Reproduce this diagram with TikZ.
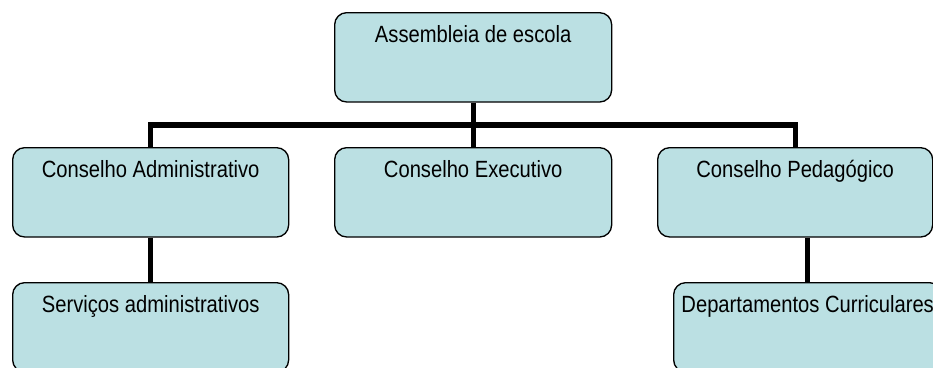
\documentclass[tikz,border=0pt]{standalone}
\usepackage{fontspec}
\setmainfont{Liberation Sans}[FakeStretch=0.86]
\definecolor{boxfill}{RGB}{187,224,227}
\begin{document}
\begin{tikzpicture}[x=0.75pt,y=-0.75pt,
  orgbox/.style={draw=black,line width=1pt,fill=boxfill,rounded corners=9pt,
    anchor=north west,inner xsep=0pt,inner ysep=0pt,minimum width=#1*0.75pt,
    text height=22.5pt,text depth=44.5pt,font={\fontsize{17.6}{20}\selectfont\spaceskip=0.24em\relax}},
  conn/.style={line width=3.8pt,line join=miter}]
\useasboundingbox (0,0) rectangle (933,368);
\clip (0,0) rectangle (933,368);
\node[orgbox=277] (ae) at (334,12) {Assembleia de escola};
\node[orgbox=276] (ca) at (12,147) {Conselho Administrativo};
\node[orgbox=277] (ce) at (334,147) {Conselho Executivo};
\node[orgbox=275] (cp) at (657,147) {Conselho Pedagógico};
\node[orgbox=276] (sa) at (12,282) {Serviços administrativos};
\node[orgbox=268] (dc) at (673,282) {Departamentos Curriculares};
\coordinate (bus) at (473,125);
\draw[conn] (ae.south) -- (ae.south |- bus);
\draw[conn] (ca.north) -- (ca.north |- bus) -- (cp.north |- bus) -- (cp.north);
\draw[conn] (ce.north) -- (ce.north |- bus);
\draw[conn] (ca.south) -- (sa.north);
\draw[conn] (dc.north |- cp.south) -- (dc.north);
\end{tikzpicture}
\end{document}
